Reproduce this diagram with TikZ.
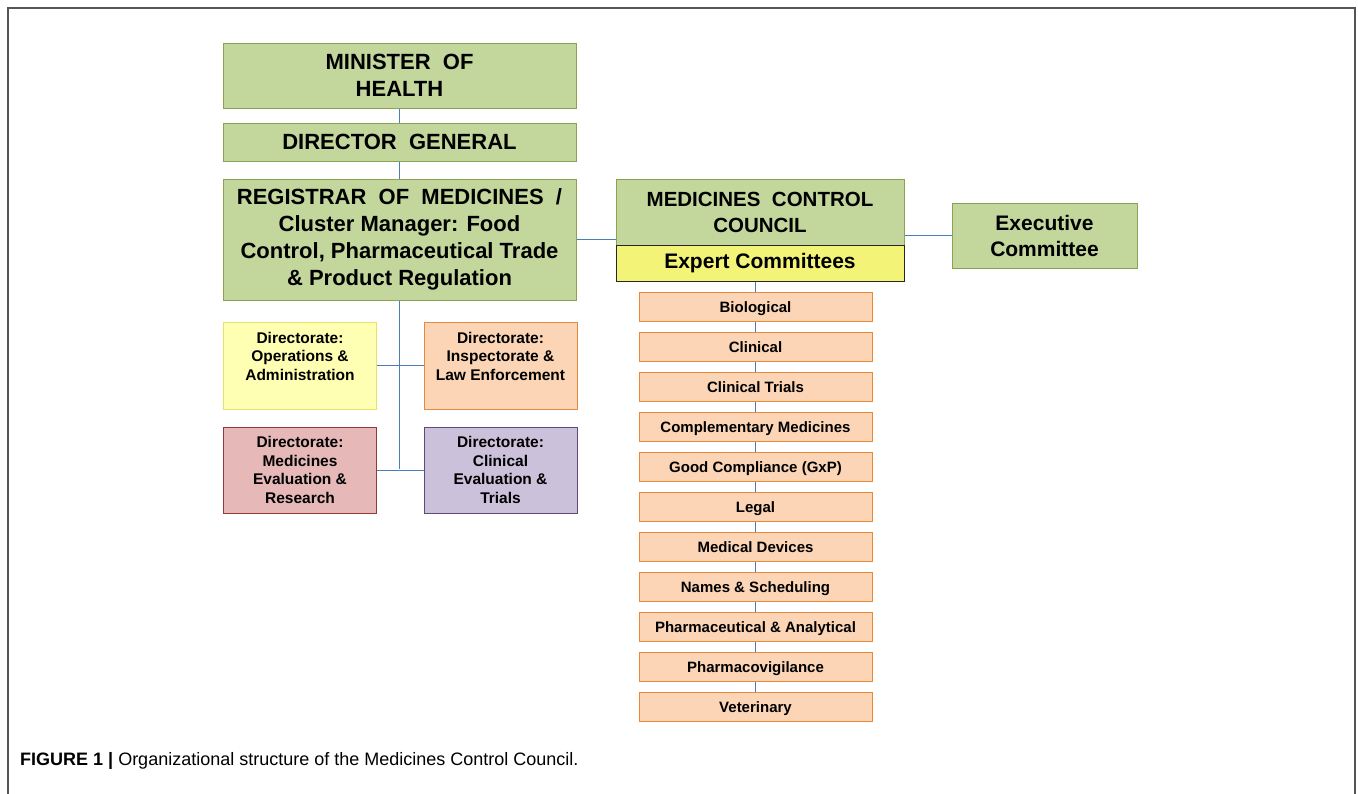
\documentclass[tikz,border=0pt]{standalone}
\usepackage{fontspec}
\setmainfont{Liberation Sans}
\definecolor{gfill}{HTML}{C3D69B}
\definecolor{gline}{HTML}{8AA353}
\definecolor{yfill}{HTML}{F3F378}
\definecolor{lyfill}{HTML}{FFFFB3}
\definecolor{lyline}{HTML}{E3E36A}
\definecolor{pfill}{HTML}{FBD5B5}
\definecolor{pline}{HTML}{E8883A}
\definecolor{rfill}{HTML}{E6B9B8}
\definecolor{rline}{HTML}{953735}
\definecolor{vfill}{HTML}{CCC1DA}
\definecolor{vline}{HTML}{5F497A}
\definecolor{conn}{HTML}{4A7EBB}
\definecolor{frame}{HTML}{555555}
\tikzset{
  base/.style={draw, line width=1pt, inner sep=0pt, align=center, font=\bfseries},
  green/.style={base, fill=gfill, draw=gline, font=\fontsize{22}{27}\selectfont\bfseries},
  dirbox/.style={base, minimum width=153pt, minimum height=87pt, font=\fontsize{15.5}{18.5}\selectfont\bfseries},
  combox/.style={base, fill=pfill, draw=pline, minimum width=233pt, minimum height=29pt, text height=14pt, text depth=2.4pt, font=\fontsize{15}{18}\selectfont\bfseries},
  link/.style={draw=conn, line width=1pt},
}
\begin{document}
\begin{tikzpicture}[x=1pt, y=-1pt]
\useasboundingbox (0,0) rectangle (1358,793);
\fill[white] (0,0) rectangle (1358,793);
\draw[frame, line width=2pt] (8,800) -- (8,8) -- (1355,8) -- (1355,800);

% left column
\node[green, minimum width=353pt, minimum height=65pt] (min) at (399.5,75.5) {MINISTER\ \ OF\\HEALTH};
\node[green, minimum width=353pt, minimum height=38pt] (dg) at (399.5,142) {DIRECTOR\ \ GENERAL};
\node[green, minimum width=353pt, minimum height=121pt] (reg) at (399.5,239.5) {REGISTRAR\ \ OF\ \ MEDICINES\ \ /\\Cluster Manager: Food\\Control, Pharmaceutical Trade\\\& Product Regulation};

\node[dirbox, fill=lyfill, draw=lyline] (ops) at (300,365.5) {Directorate:\\Operations \&\\Administration\\\mbox{}};
\node[dirbox, fill=pfill, draw=pline] (insp) at (500.5,365.5) {Directorate:\\Inspectorate \&\\Law Enforcement\\\mbox{}};
\node[dirbox, fill=rfill, draw=rline, minimum height=86pt] (mer) at (300,470) {Directorate:\\Medicines\\Evaluation \&\\Research};
\node[dirbox, fill=vfill, draw=vline, minimum height=86pt] (cet) at (500.5,470) {Directorate:\\Clinical\\Evaluation \&\\Trials};

% council
\node[green, minimum width=288pt, minimum height=66pt, font=\fontsize{20.5}{26}\selectfont\bfseries] (mcc) at (760,212) {MEDICINES\ \ CONTROL\\COUNCIL};
\node[base, fill=yfill, draw=black!85, minimum width=288pt, minimum height=36pt, font=\fontsize{21}{25}\selectfont\bfseries] (exp) at (760,263) {Expert Committees};
\node[green, minimum width=185pt, minimum height=65pt, font=\fontsize{21}{26}\selectfont\bfseries] (exec) at (1044.5,235.5) {Executive\\Committee};

% committees
\node[combox] (c1) at (755.5,306.5) {Biological};
\node[combox] (c2) at (755.5,346.5) {Clinical};
\node[combox] (c3) at (755.5,386.5) {Clinical Trials};
\node[combox] (c4) at (755.5,426.5) {Complementary Medicines};
\node[combox] (c5) at (755.5,466.5) {Good Compliance (GxP)};
\node[combox] (c6) at (755.5,506.5) {Legal};
\node[combox] (c7) at (755.5,546.5) {Medical Devices};
\node[combox] (c8) at (755.5,586.5) {Names \& Scheduling};
\node[combox] (c9) at (755.5,626.5) {Pharmaceutical \& Analytical};
\node[combox] (c10) at (755.5,666.5) {Pharmacovigilance};
\node[combox] (c11) at (755.5,706.5) {Veterinary};

% connectors
\coordinate (jlow) at (399.5,468.5);
\draw[link] (min.south) -- (dg.north);
\draw[link] (dg.south) -- (reg.north);
\draw[link] (reg.south) -- (jlow);
\draw[link] (ops.east) -- (insp.west);
\draw[link] (mer.east) -- (cet.west);
\draw[link] (reg.east) -- (reg.east -| mcc.west);
\draw[link] (exec.west) -- (exec.west -| mcc.east);
\draw[link] (exp.south -| c1.north) -- (c1.north);
\foreach \a/\b in {c1/c2,c2/c3,c3/c4,c4/c5,c5/c6,c6/c7,c7/c8,c8/c9,c9/c10,c10/c11}
  \draw[link] (\a.south) -- (\b.north);

% caption
\node[anchor=base west, inner sep=0pt, font=\fontsize{18}{22}\selectfont] (cap) at (20,765.5) {\textbf{FIGURE 1 |} Organizational structure of the Medicines Control Council.};
\end{tikzpicture}
\end{document}
